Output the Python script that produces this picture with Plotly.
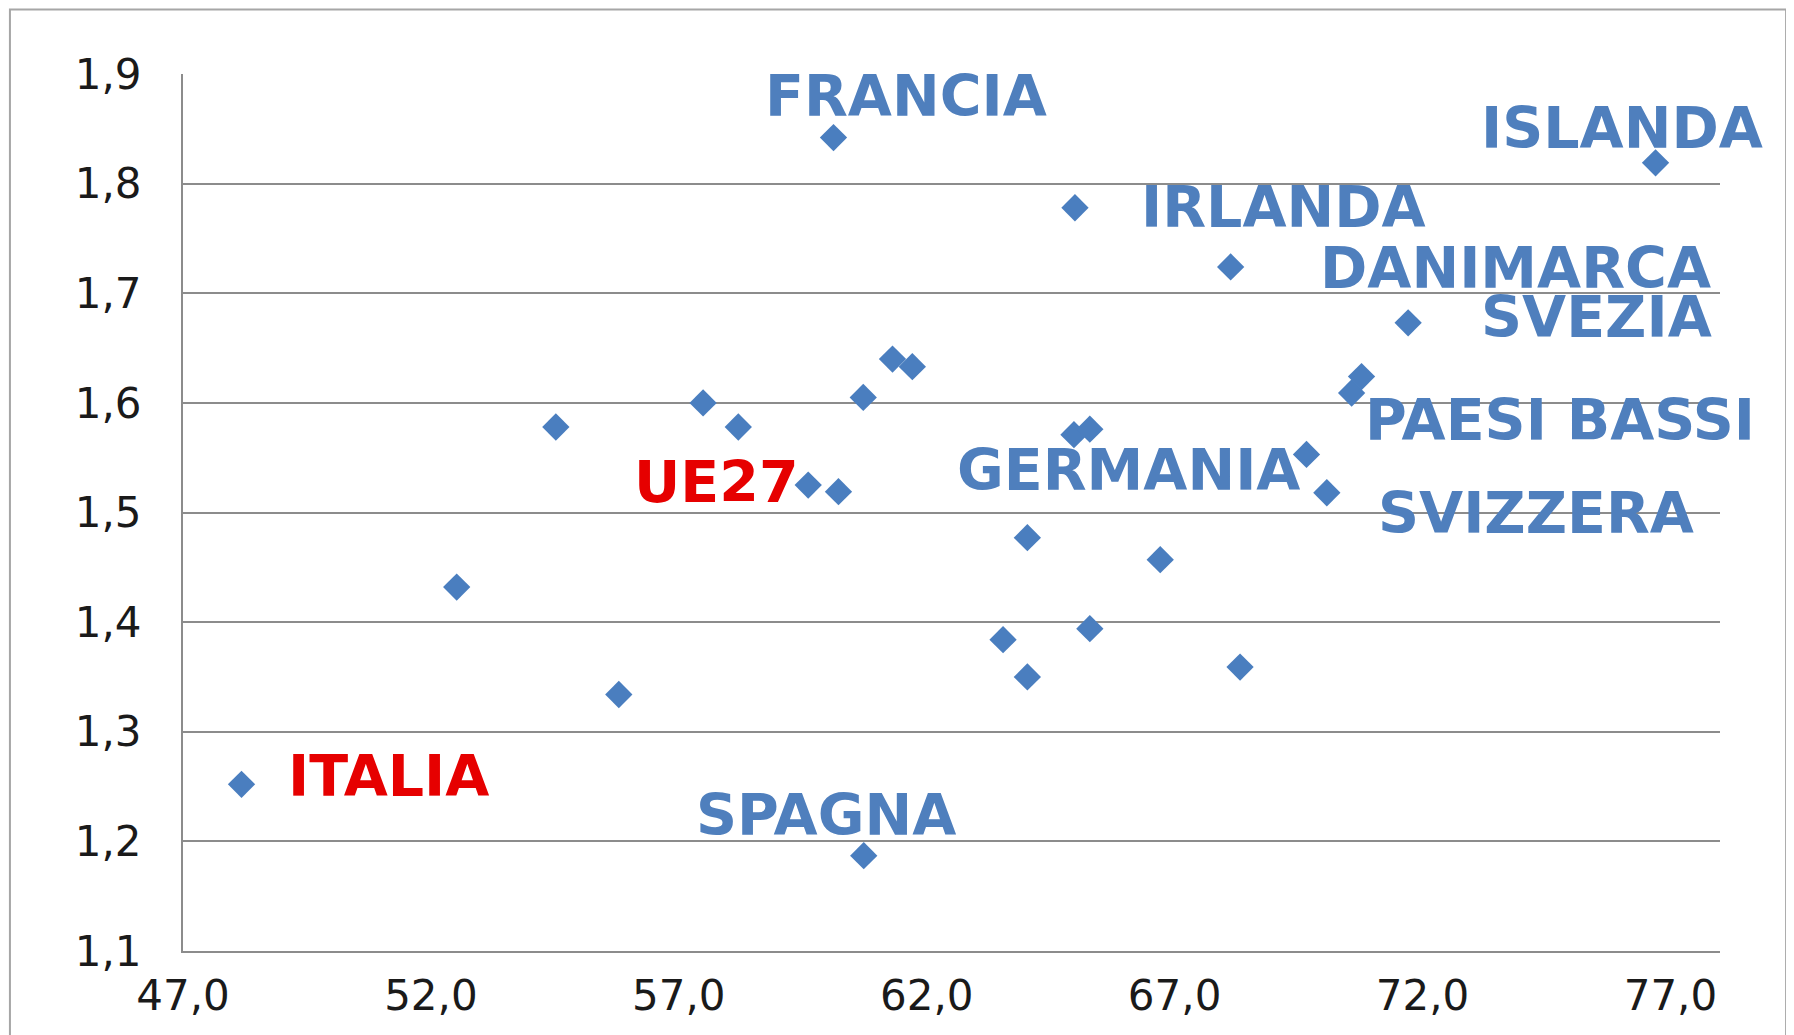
import plotly.graph_objects as go

# ---- data ----
occupazione = [48.18, 52.52, 54.52, 55.79, 57.49, 58.20, 59.61, 60.22, 60.12, 60.72,
               60.73, 61.31, 61.71, 63.54, 64.03, 64.03, 64.99, 64.97, 65.29, 65.29,
               66.71, 68.13, 68.32, 69.66, 70.07, 70.57, 70.77, 71.71, 76.70]
fecondita = [1.252, 1.432, 1.578, 1.334, 1.600, 1.578, 1.525, 1.519, 1.842, 1.605,
             1.187, 1.640, 1.633, 1.384, 1.477, 1.350, 1.778, 1.571, 1.576, 1.394,
             1.457, 1.724, 1.359, 1.553, 1.518, 1.609, 1.624, 1.673, 1.819]
etichette = ["ITALIA", "", "", "", "", "", "UE27", "", "FRANCIA", "",
             "SPAGNA", "", "", "", "", "", "IRLANDA", "", "", "",
             "", "DANIMARCA", "", "GERMANIA", "SVIZZERA", "PAESI BASSI", "", "SVEZIA", "ISLANDA"]
x_ticks = [47, 52, 57, 62, 67, 72, 77]
y_ticks = [1.1, 1.2, 1.3, 1.4, 1.5, 1.6, 1.7, 1.8, 1.9]

# ---- styling (label offsets in pixels, colours) ----
BLUE_TXT = "#4F7FBD"
RED_TXT = "#E60000"
label_style = {
    "ITALIA": (147, 8, RED_TXT),
    "UE27": (-92, 3, RED_TXT),
    "FRANCIA": (72, 42, BLUE_TXT),
    "SPAGNA": (-38, 41, BLUE_TXT),
    "IRLANDA": (209, 1, BLUE_TXT),
    "DANIMARCA": (285, -1, BLUE_TXT),
    "GERMANIA": (-178, -16, BLUE_TXT),
    "SVIZZERA": (209, -20, BLUE_TXT),
    "PAESI BASSI": (208, -27, BLUE_TXT),
    "SVEZIA": (188, 6, BLUE_TXT),
    "ISLANDA": (-34, 35, BLUE_TXT),
}

fig = go.Figure()
fig.add_trace(go.Scatter(
    x=occupazione, y=fecondita, mode="markers",
    marker=dict(symbol="diamond", size=21, color="#4A7EBF", line=dict(width=0)),
    showlegend=False, hoverinfo="x+y",
))

annotations = []
for xv, yv, name in zip(occupazione, fecondita, etichette):
    if not name:
        continue
    dx, dy, col = label_style[name]
    annotations.append(dict(
        x=xv, y=yv, xref="x", yref="y", text=name, showarrow=False,
        xshift=dx, yshift=dy, xanchor="center", yanchor="middle",
        font=dict(family="DejaVu Sans", size=57, color=col, weight="bold"),
    ))

fig.update_layout(
    width=1794, height=1035,
    margin=dict(l=175, r=82, t=66, b=92),
    paper_bgcolor="white", plot_bgcolor="white",
    separators=",.",
    annotations=annotations,
    shapes=[dict(type="rect", xref="paper", yref="paper",
                 x0=-0.1126, x1=1.043, y0=-0.12, y1=1.0735,
                 line=dict(color="#A6A6A6", width=2), fillcolor="rgba(0,0,0,0)",
                 layer="below")],
    xaxis=dict(
        range=[47, 78], tickvals=x_ticks, tickformat=".1f",
        showgrid=False, zeroline=False,
        showline=True, linecolor="#8C8C8C", linewidth=2,
        ticks="", ticklabelstandoff=7,
        tickfont=dict(family="DejaVu Sans", size=42, color="#1A1A1A"),
    ),
    yaxis=dict(
        range=[1.1, 1.9], tickvals=y_ticks, tickformat=".1f",
        showgrid=True, gridcolor="#8C8C8C", gridwidth=2, zeroline=False,
        showline=True, linecolor="#8C8C8C", linewidth=2,
        ticks="", ticklabelstandoff=31,
        tickfont=dict(family="DejaVu Sans", size=42, color="#1A1A1A"),
    ),
)

fig.write_html("out.html")
